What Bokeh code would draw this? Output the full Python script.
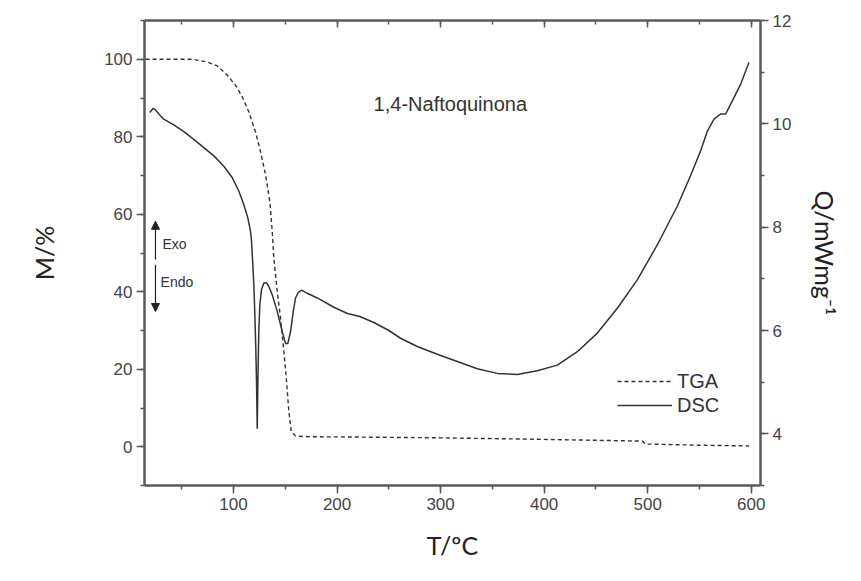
from bokeh.plotting import figure
from bokeh.models import (Range1d, LinearAxis, SingleIntervalTicker, Label, Legend, LegendItem,
                          Arrow, NormalHead)
from bokeh.embed import file_html
from bokeh.resources import INLINE

# TGA (mass %, left axis)
tga_T = [15, 40, 60, 74.6, 84.2, 93.9, 101.9, 108.4, 114.8, 121.2, 126.1, 130.9, 135.1, 137.4,
         138.9, 142.2, 145.4, 148.6, 151.2, 153.4, 155.7, 159.9, 174.4, 200, 300, 400, 495, 498,
         550, 598]
tga_M = [100, 100, 100, 99.3, 98.3, 95.9, 93.3, 90.3, 86.4, 81.3, 76.1, 70.2, 63.2, 55.5,
         48.7, 40.1, 33.2, 24.6, 16.9, 9.2, 4.0, 2.75, 2.57, 2.55, 2.3, 1.9, 1.45, 0.7,
         0.4, 0.2]

# DSC (heat flow, right axis)
dsc_T = [19.1, 22.4, 24.6, 27.8, 32.6, 42.3, 52.0, 61.6, 71.3, 81.0, 90.6, 98.7, 105.1, 109.9,
         113.8, 116.4, 117.4, 118.6, 119.6, 120.6, 121.5, 122.2, 122.9, 123.5, 124.4, 125.4, 127.0,
         129.3, 131.9, 134.1, 137.4, 142.2, 147.0, 150.2, 152.5, 155.1, 157.7, 159.9, 162.5, 165.7,
         171.2, 180.9, 196.9, 210.0, 222.0, 236.0, 250.0, 261.3, 277.5, 296.8, 316.1, 335.5, 354.8,
         374.1, 393.4, 412.7, 432.1, 451.4, 470.7, 490.0, 509.4, 528.7, 541.3, 551.2, 557.7, 564.1,
         570.5, 575.4, 580.2, 589.9, 597.9]
dsc_Q = [10.22, 10.30, 10.27, 10.19, 10.09, 9.98, 9.85, 9.70, 9.54, 9.38, 9.18, 8.96, 8.70, 8.44,
         8.18, 7.92, 7.73, 7.28, 6.89, 6.30, 5.66, 5.01, 4.10, 5.01, 5.98, 6.50, 6.79,
         6.92, 6.92, 6.85, 6.69, 6.37, 5.98, 5.75, 5.75, 5.98, 6.37, 6.63, 6.74, 6.78,
         6.72, 6.63, 6.45, 6.33, 6.27, 6.15, 6.00, 5.85, 5.69, 5.54, 5.40, 5.26, 5.17,
         5.15, 5.22, 5.33, 5.59, 5.95, 6.43, 6.98, 7.66, 8.41, 8.99, 9.48, 9.86, 10.09,
         10.19, 10.19, 10.38, 10.77, 11.19]

series_names = ["TGA", "DSC"]
chart_title = "1,4-Naftoquinona"
x_title = "T/ºC"
y_title = "M/%"
y2_title = "Q/mWmg⁻¹"

W, H = 861, 565
p = figure(width=W, height=H, output_backend="svg", toolbar_location=None,
           x_range=Range1d(14, 609), y_range=Range1d(-10, 110),
           min_border_left=144, min_border_top=20, min_border_right=101, min_border_bottom=80)
p.extra_y_ranges = {"dsc": Range1d(3, 12)}
p.background_fill_color = "white"
p.border_fill_color = "white"
p.outline_line_color = None
p.xgrid.visible = False
p.ygrid.visible = False

AX = "#5a5a5a"
TICK_FONT = "Liberation Sans"
LBL_FONT = "Lato"

def style_axis(ax):
    ax.axis_line_color = AX
    ax.axis_line_width = 2.5
    ax.major_tick_line_color = AX
    ax.minor_tick_line_color = AX
    ax.major_tick_line_width = 1.5
    ax.minor_tick_line_width = 1.5
    ax.major_tick_out = 8
    ax.major_tick_in = 0
    ax.minor_tick_out = 4
    ax.minor_tick_in = 0
    ax.major_label_text_font = TICK_FONT
    ax.major_label_text_font_size = "17px"
    ax.major_label_text_color = "#444444"
    ax.major_label_standoff = 4
    ax.axis_label_text_font = LBL_FONT
    ax.axis_label_text_font_size = "25px"
    ax.axis_label_text_font_style = "normal"
    ax.axis_label_text_color = "#222222"

xa = p.xaxis[0]
xa.ticker = SingleIntervalTicker(interval=100, num_minor_ticks=2)
style_axis(xa)
xa.axis_label = x_title
xa.axis_label_standoff = 17

ya = p.yaxis[0]
ya.ticker = SingleIntervalTicker(interval=20, num_minor_ticks=2)
style_axis(ya)
ya.axis_label = y_title
ya.axis_label_standoff = 42

ra = LinearAxis(y_range_name="dsc", ticker=SingleIntervalTicker(interval=2, num_minor_ticks=2))
style_axis(ra)
ra.axis_label = y2_title
ra.axis_label_standoff = 16
p.add_layout(ra, "right")

ta = LinearAxis(ticker=SingleIntervalTicker(interval=100, num_minor_ticks=2))
style_axis(ta)
ta.major_tick_out = 0
ta.major_tick_in = 7
ta.minor_tick_out = 0
ta.minor_tick_in = 4
ta.major_label_overrides = {100: "", 200: "", 300: "", 400: "", 500: "", 600: ""}
ta.major_label_text_font_size = "2px"
ta.major_label_standoff = 0
p.add_layout(ta, "above")

tga = p.line(tga_T, tga_M, line_color="#333333", line_width=1.4, line_dash="4 3")
dsc = p.line(dsc_T, dsc_Q, line_color="#333333", line_width=1.5, y_range_name="dsc")

legend = Legend(items=[LegendItem(label=series_names[0], renderers=[tga]),
                       LegendItem(label=series_names[1], renderers=[dsc])],
                location=(473, 68), orientation="vertical",
                label_text_font=TICK_FONT, label_text_font_size="20px",
                label_text_color="#333333",
                glyph_width=55, glyph_height=24, label_height=24, spacing=0,
                padding=0, margin=0, label_standoff=5,
                border_line_color=None, background_fill_alpha=0)
p.add_layout(legend, "center")

p.add_layout(Label(x=235.3, y=88.5, text=chart_title, text_font=TICK_FONT,
                   text_font_size="20px", text_color="#333333", text_baseline="middle"))

# Exo / Endo arrows
p.add_layout(Arrow(end=NormalHead(size=8, fill_color="#222222", line_color="#222222"),
                   x_start=24.6, y_start=48.3, x_end=24.6, y_end=58.2,
                   line_color="#222222", line_width=1.2))
p.add_layout(Arrow(end=NormalHead(size=8, fill_color="#222222", line_color="#222222"),
                   x_start=24.6, y_start=47.0, x_end=24.6, y_end=34.9,
                   line_color="#222222", line_width=1.2))
p.add_layout(Label(x=31.4, y=52.4, text="Exo", text_font=TICK_FONT,
                   text_font_size="14px", text_color="#333333", text_baseline="middle"))
p.add_layout(Label(x=29.5, y=42.6, text="Endo", text_font=TICK_FONT,
                   text_font_size="14px", text_color="#333333", text_baseline="middle"))

open("out.html", "w").write(file_html(p, INLINE))
